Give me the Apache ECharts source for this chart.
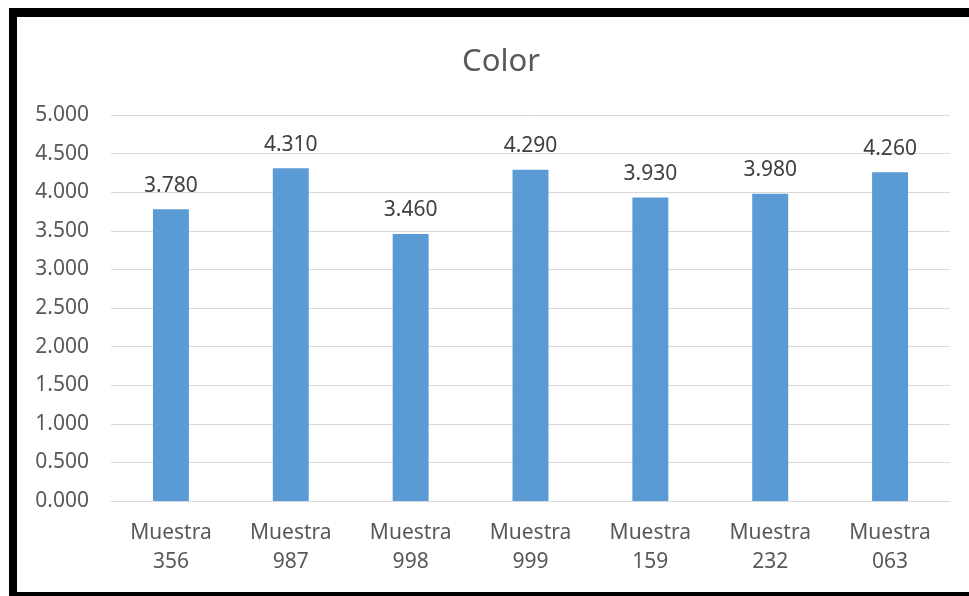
<!DOCTYPE html>
<html><head><meta charset="utf-8">
<script src="https://cdn.jsdelivr.net/npm/echarts@6/dist/echarts.min.js"></script>
<style>html,body{margin:0;padding:0;background:#fff;}#c{width:969px;height:596px;}</style>
</head><body><div id="c"></div>
<script>
const titleText = 'Color';
const categories = ['Muestra\n356', 'Muestra\n987', 'Muestra\n998', 'Muestra\n999', 'Muestra\n159', 'Muestra\n232', 'Muestra\n063'];
const values = [3.780, 4.310, 3.460, 4.290, 3.930, 3.980, 4.260];
const yMin = 0, yMax = 5, yStep = 0.5;

const chart = echarts.init(document.getElementById('c'), null, {renderer: 'canvas'});
const font = '"Noto Sans", sans-serif';
chart.setOption({
  animation: false,
  backgroundColor: '#ffffff',
  title: {
    text: titleText, left: 496, top: 42, textAlign: 'center',
    textStyle: {fontFamily: font, fontSize: 31, fontWeight: 'normal', color: '#595959'}
  },
  grid: {left: 111, right: 19, top: 115, bottom: 95, containLabel: false},
  xAxis: {
    type: 'category', data: categories,
    axisLine: {show: true, lineStyle: {color: '#d9d9d9', width: 1}},
    axisTick: {show: false},
    axisLabel: {fontFamily: font, fontSize: 21, color: '#595959', lineHeight: 29, margin: 18, interval: 0}
  },
  yAxis: {
    type: 'value', min: yMin, max: yMax, interval: yStep,
    axisLine: {show: false}, axisTick: {show: false},
    splitLine: {lineStyle: {color: '#d9d9d9', width: 1}},
    axisLabel: {fontFamily: font, fontSize: 21, color: '#595959', margin: 22,
      formatter: v => v.toFixed(3)}
  },
  series: [{
    type: 'bar', data: values, barWidth: '30%',
    itemStyle: {color: '#5b9bd5'},
    label: {show: true, position: 'top', distance: 13, fontFamily: font, fontSize: 21, color: '#404040',
      formatter: p => p.value.toFixed(3)}
  }],
  graphic: [
    {type: 'rect', shape: {x: 9, y: 8, width: 960, height: 9}, style: {fill: '#000'}, z: 100},
    {type: 'rect', shape: {x: 9, y: 8, width: 8, height: 588}, style: {fill: '#000'}, z: 100},
    {type: 'rect', shape: {x: 9, y: 592, width: 960, height: 4}, style: {fill: '#000'}, z: 100}
  ]
});
</script></body></html>
